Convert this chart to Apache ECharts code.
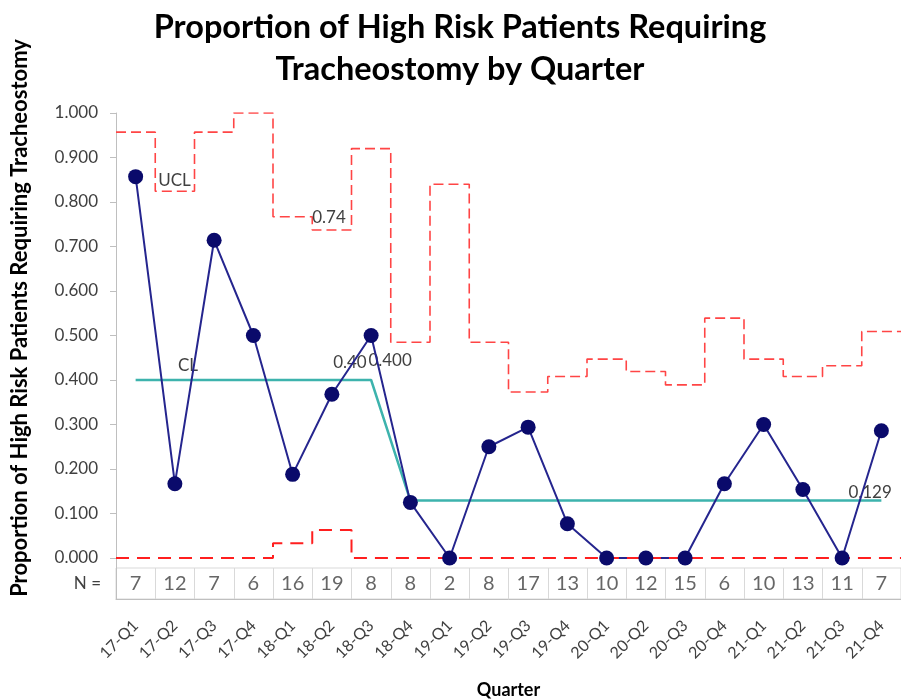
<!DOCTYPE html>
<html>
<head>
<meta charset="utf-8">
<script src="https://cdn.jsdelivr.net/npm/echarts@6/dist/echarts.min.js"></script>
<style>
  html, body { margin: 0; padding: 0; background: #fff; }
  #chart { width: 901px; height: 700px; }
</style>
</head>
<body>
<div id="chart"></div>
<script>
// quarters and patient counts
const quarters = ['17-Q1', '17-Q2', '17-Q3', '17-Q4', '18-Q1', '18-Q2', '18-Q3', '18-Q4',
  '19-Q1', '19-Q2', '19-Q3', '19-Q4', '20-Q1', '20-Q2', '20-Q3', '20-Q4',
  '21-Q1', '21-Q2', '21-Q3', '21-Q4'];
const nPatients = [7, 12, 7, 6, 16, 19, 8, 8, 2, 8, 17, 13, 10, 12, 15, 6, 10, 13, 11, 7];
// proportion requiring tracheostomy
const proportion = [0.857, 0.167, 0.714, 0.500, 0.188, 0.368, 0.500, 0.125, 0.000, 0.250,
  0.294, 0.077, 0.000, 0.000, 0.000, 0.167, 0.300, 0.154, 0.000, 0.286];
// control limits
const centerLine = [0.400, 0.400, 0.400, 0.400, 0.400, 0.400, 0.400, 0.129, 0.129, 0.129,
  0.129, 0.129, 0.129, 0.129, 0.129, 0.129, 0.129, 0.129, 0.129, 0.129];
const ucl = [0.957, 0.824, 0.957, 1.000, 0.767, 0.737, 0.920, 0.485, 0.840, 0.485,
  0.373, 0.408, 0.447, 0.419, 0.389, 0.539, 0.447, 0.408, 0.432, 0.509];
const lcl = [0, 0, 0, 0, 0.033, 0.063, 0, 0, 0, 0, 0, 0, 0, 0, 0, 0, 0, 0, 0, 0];

const textColor = '#404040';
const font = 'Lato, "Open Sans", sans-serif';

// step lines span the whole quarter band -> value x axis 0..20
const stepData = (arr, labels) => {
  const out = arr.map((v, i) => {
    const item = { value: [i, v] };
    if (labels[i]) item.label = labels[i];
    return item;
  });
  out.push({ value: [arr.length, arr[arr.length - 1]] });
  return out;
};
const lbl = (text, dx, dy) => ({
  show: true, formatter: text, position: [dx, dy], align: 'left', verticalAlign: 'middle',
  fontSize: 17, color: textColor, fontFamily: font
});

const uclLabels = { 1: lbl('UCL', 3, -11), 5: lbl('0.74', 0, -13) };
const clLabels = { 1: lbl('CL', 3, -14), 6: lbl('0.40', -38, -17), 7: lbl('0.400', -42, -140), 19: lbl('0.129', -33, -8) };

const chart = echarts.init(document.getElementById('chart'), null, { renderer: 'canvas' });

const option = {
  animation: false,
  backgroundColor: '#fff',
  textStyle: { fontFamily: font },
  title: {
    text: 'Proportion of High Risk Patients Requiring\nTracheostomy by Quarter',
    left: 455, top: 2, textAlign: 'center',
    textStyle: { fontSize: 32.5, fontWeight: 'bold', color: '#000', lineHeight: 42, fontFamily: font }
  },
  graphic: [{
    type: 'text', x: 20, y: 318, rotation: Math.PI / 2,
    style: {
      text: 'Proportion of High Risk Patients Requiring Tracheostomy',
      fontSize: 22, fontWeight: 'bold', fill: '#000', fontFamily: font,
      align: 'center', verticalAlign: 'middle'
    }
  }],
  grid: [
    { left: 116, top: 113, width: 789, height: 445 },
    { left: 116, top: 558, width: 789, height: 10 },
    { left: 116, top: 568, width: 789, height: 34, show: true, borderColor: '#d9d9d9', borderWidth: 1 }
  ],
  xAxis: [
    { gridIndex: 0, type: 'value', min: 0, max: 20, show: false },
    { gridIndex: 0, type: 'category', data: quarters, boundaryGap: true, show: false },
    { gridIndex: 1, type: 'value', min: 0, max: 1, show: false },
    {
      gridIndex: 2, type: 'category', data: quarters, boundaryGap: true,
      axisLine: { lineStyle: { color: '#bfbfbf' } },
      axisTick: { length: 6, lineStyle: { color: '#bfbfbf' } },
      axisLabel: { rotate: 45, margin: 24, fontSize: 16, color: textColor, interval: 0 },
      splitLine: { show: true, lineStyle: { color: '#d9d9d9' } },
      name: 'Quarter', nameLocation: 'middle', nameGap: 82,
      nameTextStyle: { fontWeight: 'bold', fontSize: 18, color: '#000' }
    }
  ],
  yAxis: [
    {
      gridIndex: 0, type: 'value', min: 0, max: 1, interval: 0.1,
      axisLine: { show: true, onZero: false, lineStyle: { color: '#bfbfbf' } },
      axisTick: { show: true, length: 6, lineStyle: { color: '#bfbfbf' } },
      axisLabel: { formatter: v => v.toFixed(3), margin: 18, fontSize: 17, color: textColor },
      splitLine: { show: false }
    },
    {
      gridIndex: 1, type: 'value', min: 0, max: 1,
      axisLine: { show: true, onZero: false, lineStyle: { color: '#bfbfbf' } },
      axisTick: { show: false }, axisLabel: { show: false }, splitLine: { show: false }
    },
    {
      gridIndex: 2, type: 'category', data: ['N ='],
      axisLine: { show: true, onZero: false, lineStyle: { color: '#bfbfbf' } },
      axisTick: { show: false },
      axisLabel: { margin: 15, fontSize: 17, color: textColor },
      splitLine: { show: false }
    }
  ],
  series: [
    {
      name: 'UCL', type: 'line', xAxisIndex: 0, yAxisIndex: 0, step: 'end',
      data: stepData(ucl, uclLabels),
      symbol: 'circle', symbolSize: 0, silent: true, z: 2,
      lineStyle: { color: '#ff4545', width: 1.6, type: [10, 5] }
    },
    {
      name: 'LCL', type: 'line', xAxisIndex: 0, yAxisIndex: 0, step: 'end',
      data: stepData(lcl, {}),
      symbol: 'none', silent: true, z: 4,
      lineStyle: { color: '#ff1f1f', width: 2, type: [13, 8] }
    },
    {
      name: 'CL', type: 'line', xAxisIndex: 1, yAxisIndex: 0,
      data: centerLine.map((v, i) => clLabels[i] ? { value: v, label: clLabels[i] } : v),
      symbol: 'circle', symbolSize: 0, silent: true, z: 2,
      lineStyle: { color: '#3db3ad', width: 2.5 }
    },
    {
      name: 'Proportion', type: 'line', xAxisIndex: 1, yAxisIndex: 0,
      data: proportion, showSymbol: false, z: 3,
      lineStyle: { color: '#25258e', width: 2 }
    },
    {
      name: 'Proportion points', type: 'scatter', xAxisIndex: 1, yAxisIndex: 0,
      data: proportion, symbolSize: 15, z: 5,
      itemStyle: { color: '#0a0a6b', opacity: 1 }
    },
    {
      name: 'N', type: 'scatter', xAxisIndex: 3, yAxisIndex: 2,
      data: nPatients.map((n, i) => [quarters[i], 'N =', n]),
      symbolSize: 0, silent: true,
      label: { show: true, position: 'inside', formatter: p => p.value[2], fontSize: 20, color: textColor }
    }
  ]
};

chart.setOption(option);
</script>
</body>
</html>
